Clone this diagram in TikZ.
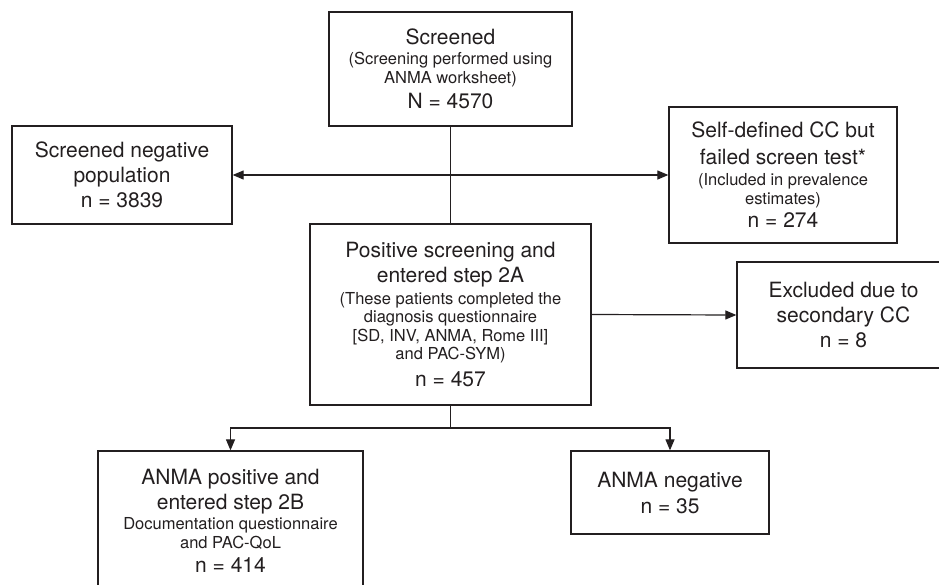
\documentclass[tikz,border=0pt]{standalone}
\usepackage{fontspec}
\setmainfont{TeX Gyre Heros}
\usetikzlibrary{arrows.meta}
\definecolor{ink}{HTML}{231F20}
\newcommand{\bigf}{\fontsize{21}{25}\selectfont}
\newcommand{\smf}{\fontsize{16.5}{19}\selectfont}
\begin{document}
\begin{tikzpicture}[x=1pt,y=-1pt,
  box/.style={draw=ink,line width=1.3pt,text=ink,align=center,inner sep=0pt,font=\bigf},
  conn/.style={draw=ink,line width=1.2pt},
  arr/.style={conn,-{Triangle[length=11pt,width=9pt]}},
  darr/.style={conn,{Triangle[length=11pt,width=9pt]}-{Triangle[length=11pt,width=9pt]}}]
\useasboundingbox[fill=white] (0,0) rectangle (939,584);
\node[box,minimum width=243pt,minimum height=114pt] (scr) at (450.5,69)
  {Screened\\[-5pt]{\smf (Screening performed using}\\[-6pt]{\smf ANMA worksheet)}\\N = 4570};
\node[box,minimum width=220pt,minimum height=98pt] (neg) at (122,175)
  {Screened negative\\population\\n = 3839};
\node[box,minimum width=228pt,minimum height=136pt] (self) at (783,175)
  {Self-defined CC but\\[2pt]failed screen test*\\[-4pt]{\smf (Included in prevalence}\\[-6pt]{\smf estimates)}\\[-2pt]n = 274};
\node[box,minimum width=281pt,minimum height=181pt] (pos) at (450.5,314.5)
  {Positive screening and\\entered step 2A\\[-3pt]{\smf (These patients completed the}\\[-6.5pt]{\smf diagnosis questionnaire}\\[-6.5pt]{\smf [SD, INV, ANMA, Rome III]}\\[-6.5pt]{\smf and PAC-SYM)}\\[2pt]n = 457};
\node[box,minimum width=213pt,minimum height=106pt] (excl) at (843.5,315)
  {Excluded due to\\secondary CC\\n = 8};
\node[box,minimum width=265pt,minimum height=140pt] (apos) at (230.5,521)
  {ANMA positive and\\entered step 2B\\[-5pt]{\smf Documentation questionnaire}\\[-6pt]{\smf and PAC-QoL}\\[-1pt]n = 414};
\node[box,minimum width=198pt,minimum height=83pt] (aneg) at (670,492.5)
  {ANMA negative\\[1pt]n = 35};
\coordinate (br) at (450.5,428);
\draw[conn] (scr.south) -- (pos.north);
\draw[darr] (neg.east) -- (self.west);
\draw[arr] (pos.east) -- (excl.west);
\draw[conn] (pos.south) -- (br);
\draw[arr] (br) -| (apos.north);
\draw[arr] (br) -| (aneg.north);
\end{tikzpicture}
\end{document}
